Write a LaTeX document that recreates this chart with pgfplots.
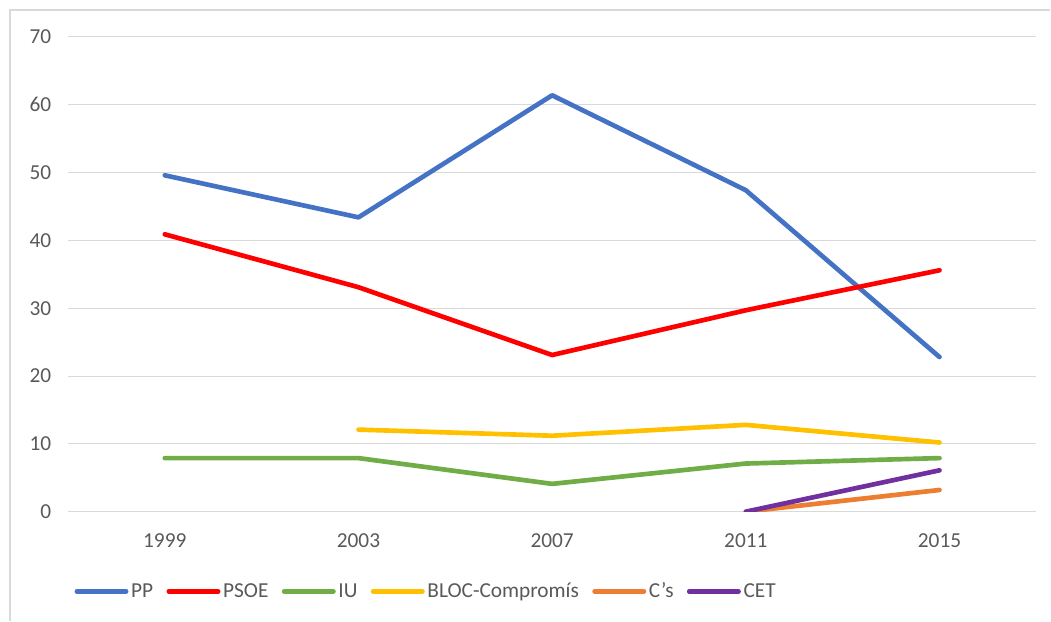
\documentclass[border=0pt]{standalone}
\usepackage{pgfplots}
\pgfplotsset{compat=1.18}
\usepackage{fontspec}
\setmainfont{Carlito}
\definecolor{ppblue}{HTML}{4472C4}
\definecolor{psoered}{HTML}{FF0000}
\definecolor{iugreen}{HTML}{70AD47}
\definecolor{blocyellow}{HTML}{FFC000}
\definecolor{csorange}{HTML}{ED7D31}
\definecolor{cetpurple}{HTML}{7030A0}
\definecolor{gridgray}{HTML}{D9D9D9}
\definecolor{txtgray}{HTML}{595959}
\begin{document}
\begin{tikzpicture}
\path (-51pt,-81.75pt) rectangle (737.25pt,384pt);
\draw[gridgray, line width=1pt] (-43.5pt,-81.75pt) -- (-43.5pt,376.5pt) -- (737.25pt,376.5pt);
\begin{axis}[
  scale only axis,
  width=726.75pt, height=356.25pt,
  xmin=-0.5, xmax=4.5, ymin=0, ymax=70,
  xtick={0,1,2,3,4},
  xticklabels={1999,2003,2007,2011,2015},
  ytick={0,10,20,30,40,50,60,70},
  axis line style={draw=none},
  tick style={draw=none},
  ymajorgrids, grid style={gridgray, line width=0.75pt},
  /pgf/number format/assume math mode=true,
  ticklabel style={font=\fontsize{16}{19}\selectfont, text=txtgray},
  yticklabel style={xshift=-9pt},
  xticklabel style={yshift=-13pt},
  legend columns=-1,
  legend style={draw=none, fill=none, inner sep=0pt, at={(0.0065,-0.168)}, anchor=west,
    font=\fontsize{16}{19}\selectfont, text=txtgray,
    /tikz/every even column/.append style={column sep=8pt},
    nodes={inner sep=2pt}},
  legend image code/.code={\draw[#1, line cap=round] (0pt,0pt) -- (37pt,0pt);},
  every axis plot/.append style={line width=3.5pt, line join=round, line cap=round},
]
\addplot[ppblue] coordinates {(0,49.6) (1,43.4) (2,61.4) (3,47.4) (4,22.8)};
\addlegendentry{PP}
\addplot[psoered] coordinates {(0,40.9) (1,33.1) (2,23.1) (3,29.7) (4,35.6)};
\addlegendentry{PSOE}
\addplot[iugreen] coordinates {(0,7.9) (1,7.9) (2,4.1) (3,7.1) (4,7.9)};
\addlegendentry{IU}
\addplot[blocyellow] coordinates {(1,12.1) (2,11.2) (3,12.8) (4,10.2)};
\addlegendentry{BLOC-Compromís}
\addplot[csorange] coordinates {(3,0) (4,3.2)};
\addlegendentry{C's}
\addplot[cetpurple] coordinates {(3,0) (4,6.1)};
\addlegendentry{CET}
\end{axis}
\end{tikzpicture}
\end{document}
